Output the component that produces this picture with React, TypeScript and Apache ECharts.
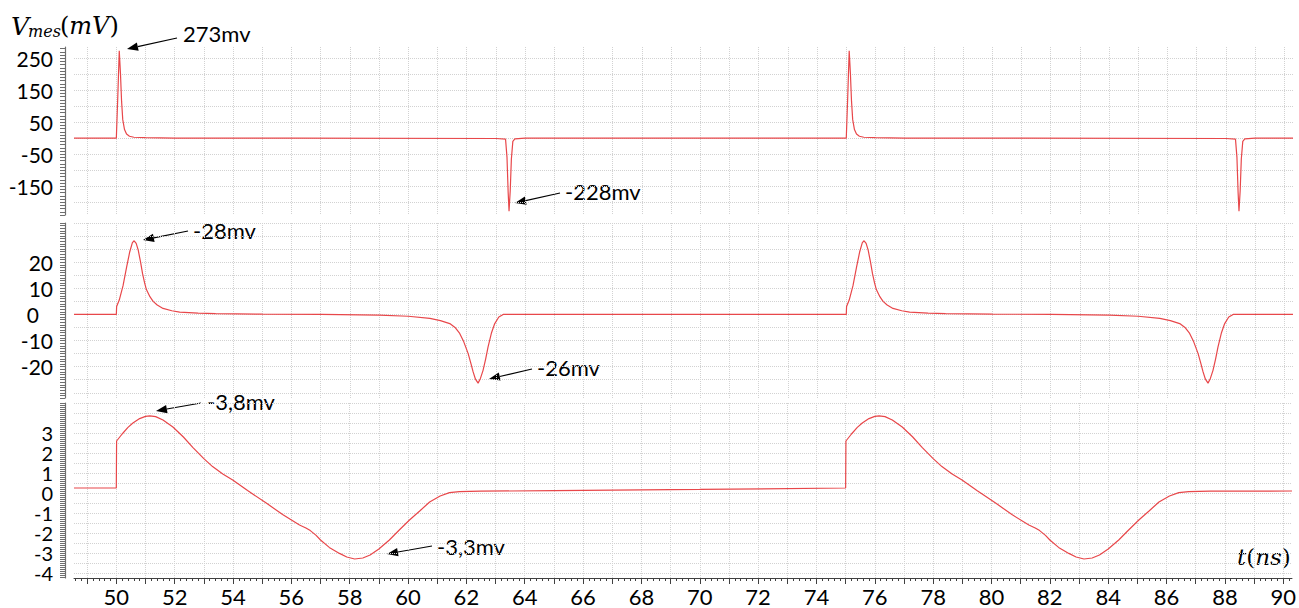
import React, { useEffect, useRef } from 'react';
import * as echarts from 'echarts';

// ---------- axis ranges & tick values ----------
const X_MIN = 48.55;
const X_MAX = 90.3;
const X_LABELS = [50, 52, 54, 56, 58, 60, 62, 64, 66, 68, 70, 72, 74, 76, 78, 80, 82, 84, 86, 88, 90];

const TOP_MIN = -240;
const TOP_MAX = 285;
const TOP_LABELS = [-150, -50, 50, 150, 250];

const MID_MIN = -32;
const MID_MAX = 35;
const MID_LABELS = [-20, -10, 0, 10, 20];

const BOT_MIN = -4.25;
const BOT_MAX = 4.5;
const BOT_LABELS_EVEN = [-4, -2, 0, 2];
const BOT_LABELS_ODD = [-3, -1, 1, 3];

// ---------- signals (t in ns, V in mV) ----------
const topSignal: [number, number][] = [
  [48.55, 0], [50.0, 0], [50.05, 130], [50.1, 273], [50.14, 205], [50.18, 115], [50.22, 58], [50.28, 27],
  [50.35, 13], [50.45, 6], [50.6, 3], [51.0, 1.5], [52.0, 0.5], [56.0, 0], [63.0, -1], [63.33, -3],
  [63.38, -60], [63.42, -170], [63.45, -228], [63.49, -165], [63.53, -65], [63.58, -10], [63.65, -2], [64.0, 0],
  [75.0, 0], [75.05, 130], [75.1, 273], [75.14, 205], [75.18, 115], [75.22, 58], [75.28, 27],
  [75.35, 13], [75.45, 6], [75.6, 3], [76.0, 1.5], [77.0, 0.5], [81.0, 0], [88.0, -1], [88.33, -3],
  [88.38, -60], [88.42, -170], [88.45, -228], [88.49, -165], [88.53, -65], [88.58, -10], [88.65, -2], [89.0, 0],
  [90.3, 0],
];

const midSignal: [number, number][] = [
  [48.55, 0], [50.0, 0], [50.01, 3], [50.1, 5.5], [50.23, 11], [50.35, 18], [50.46, 24], [50.55, 27.5],
  [50.61, 28.2], [50.68, 27.2], [50.75, 24.6], [50.83, 20], [50.9, 15.5], [50.97, 12], [51.03, 9.5],
  [51.15, 6.8], [51.26, 5], [51.4, 3.6], [51.6, 2.3], [51.9, 1.4], [52.17, 0.9], [52.8, 0.5], [53.4, 0.3],
  [55.0, 0.1], [57.0, 0], [59.0, -0.3], [60.0, -0.7], [60.74, -1.5], [61.1, -2.4], [61.42, -3.5], [61.6, -5],
  [61.76, -7.3], [61.9, -10.5], [62.05, -15], [62.15, -19], [62.22, -22], [62.3, -24.8], [62.39, -26.3],
  [62.47, -24.5], [62.56, -21.4], [62.65, -17], [62.73, -12.5], [62.85, -7], [62.96, -3.5], [63.1, -1], [63.25, 0],
  [75.0, 0], [75.01, 3], [75.1, 5.5], [75.23, 11], [75.35, 18], [75.46, 24], [75.55, 27.5],
  [75.61, 28.2], [75.68, 27.2], [75.75, 24.6], [75.83, 20], [75.9, 15.5], [75.97, 12], [76.03, 9.5],
  [76.15, 6.8], [76.26, 5], [76.4, 3.6], [76.6, 2.3], [76.9, 1.4], [77.17, 0.9], [77.8, 0.5], [78.4, 0.3],
  [80.0, 0.1], [82.0, 0], [84.0, -0.3], [85.0, -0.7], [85.74, -1.5], [86.1, -2.4], [86.42, -3.5], [86.6, -5],
  [86.76, -7.3], [86.9, -10.5], [87.05, -15], [87.15, -19], [87.22, -22], [87.3, -24.8], [87.39, -26.3],
  [87.47, -24.5], [87.56, -21.4], [87.65, -17], [87.73, -12.5], [87.85, -7], [87.96, -3.5], [88.1, -1], [88.25, 0],
  [90.3, 0],
];

const botSignal: [number, number][] = [
  [48.55, 0.25], [50.0, 0.25], [50.01, 2.6], [50.2, 2.95], [50.4, 3.28], [50.57, 3.5], [50.8, 3.72], [51.0, 3.83],
  [51.15, 3.86], [51.35, 3.82], [51.6, 3.65], [51.94, 3.3], [52.3, 2.8], [52.62, 2.28], [53.0, 1.72], [53.3, 1.32],
  [53.65, 0.95], [53.99, 0.65], [54.5, 0.12], [55.14, -0.5], [55.7, -1.08], [56.28, -1.6], [56.5, -1.75],
  [56.65, -1.88], [56.85, -2.12], [57.0, -2.35], [57.3, -2.72], [57.65, -3.02], [57.9, -3.2], [58.17, -3.3],
  [58.45, -3.25], [58.7, -3.1], [59.0, -2.8], [59.36, -2.35], [59.7, -1.85], [60.05, -1.35], [60.4, -0.9],
  [60.74, -0.45], [61.1, -0.15], [61.42, 0.02], [61.76, 0.07], [62.5, 0.09], [65.0, 0.12], [70.0, 0.18],
  [75.0, 0.25], [75.01, 2.6], [75.2, 2.95], [75.4, 3.28], [75.57, 3.5], [75.8, 3.72], [76.0, 3.83],
  [76.15, 3.86], [76.35, 3.82], [76.6, 3.65], [76.94, 3.3], [77.3, 2.8], [77.62, 2.28], [78.0, 1.72], [78.3, 1.32],
  [78.65, 0.95], [78.99, 0.65], [79.5, 0.12], [80.14, -0.5], [80.7, -1.08], [81.28, -1.6], [81.5, -1.75],
  [81.65, -1.88], [81.85, -2.12], [82.0, -2.35], [82.3, -2.72], [82.65, -3.02], [82.9, -3.2], [83.17, -3.3],
  [83.45, -3.25], [83.7, -3.1], [84.0, -2.8], [84.36, -2.35], [84.7, -1.85], [85.05, -1.35], [85.4, -0.9],
  [85.74, -0.45], [86.1, -0.15], [86.42, 0.02], [86.76, 0.07], [87.5, 0.09], [90.3, 0.1],
];

// annotation texts
const annotations = [
  { text: '273mv', tx: 183, ty: 33, ax1: 177, ay1: 38, ax2: 127, ay2: 49 },
  { text: '-228mv', tx: 565, ty: 191, ax1: 560, ay1: 193, ax2: 515, ay2: 203 },
  { text: '-28mv', tx: 193, ty: 230, ax1: 188, ay1: 231, ax2: 143, ay2: 240 },
  { text: '-26mv', tx: 537, ty: 367, ax1: 532, ay1: 369, ax2: 489, ay2: 379 },
  { text: '-3,8mv', tx: 207, ty: 401, ax1: 201, ay1: 403, ax2: 156, ay2: 411 },
  { text: '-3,3mv', tx: 437, ty: 546, ax1: 432, ay1: 546, ax2: 387, ay2: 554 },
];

function steps(a: number, b: number, s: number): number[] {
  const out: number[] = [];
  const n = Math.floor((b - a) / s + 1e-6);
  for (let i = 0; i <= n; i++) out.push(Math.round((a + i * s) * 1000) / 1000);
  return out;
}

const X_GRID = steps(49, 90, 1);
const X_RULER = steps(48.6, 90.2, 0.2);
const TOP_GRID = steps(-200, 250, 50);
const TOP_RULER = steps(-240, 280, 10);
const MID_GRID = steps(-30, 35, 5);
const MID_RULER = steps(-32, 35, 1);
const BOT_GRID = steps(-4, 4.5, 0.5);
const BOT_RULER = steps(-4.2, 4.5, 0.1);

const LABEL_FONT = 'Lato';
const RED = '#e8474a';
const GRID_COLOR = '#d2d2d2';

function arrow(x1: number, y1: number, x2: number, y2: number) {
  const dx = x2 - x1, dy = y2 - y1;
  const L = Math.hypot(dx, dy);
  const ux = dx / L, uy = dy / L;
  const hl = 11, hw = 4.2;
  const bx = x2 - ux * hl, by = y2 - uy * hl;
  const px = -uy, py = ux;
  return [
    { type: 'line', shape: { x1, y1, x2: bx, y2: by }, style: { stroke: '#000', lineWidth: 1.1 } },
    {
      type: 'polygon',
      shape: { points: [[x2, y2], [bx + px * hw, by + py * hw], [bx - px * hw, by - py * hw]] },
      style: { fill: '#000' },
    },
  ];
}

export default function App() {
  const ref = useRef<HTMLDivElement>(null);
  useEffect(() => {
    document.body.style.margin = '0';
    if (!ref.current) return;
    const chart = echarts.init(ref.current, null, { renderer: 'svg' });

    const grids = [
      { left: 74, right: 6, top: 47, height: 168 },
      { left: 74, right: 6, top: 223, height: 175 },
      { left: 74, right: 6, top: 403, height: 175 },
    ];

    const mainX = (gi: number, show: boolean) => ({
      type: 'value',
      gridIndex: gi,
      min: X_MIN,
      max: X_MAX,
      position: 'bottom',
      axisLine: { show, onZero: false, lineStyle: { color: '#404040', width: 1 } },
      axisTick: { show, customValues: X_GRID, length: 6, lineStyle: { color: '#404040' } },
      axisLabel: {
        show,
        customValues: X_LABELS,
        margin: 7,
        fontSize: 22,
        fontFamily: LABEL_FONT,
        color: '#000',
        showMinLabel: true,
        showMaxLabel: true,
      },
      splitLine: { show: true, lineStyle: { color: GRID_COLOR, type: 'dotted', width: 1 } },
    });

    const rulerX = (gi: number) => ({
      type: 'value',
      gridIndex: gi,
      min: X_MIN,
      max: X_MAX,
      position: 'bottom',
      axisLine: { show: false, onZero: false },
      axisTick: { show: true, customValues: X_RULER, length: 3, lineStyle: { color: '#404040' } },
      axisLabel: { show: false },
      splitLine: { show: false },
    });

    const mainY = (gi: number, min: number, max: number, grid: number[], labels: number[], fontSize: number, lineHeight: number, formatter?: any, rich?: any) => ({
      type: 'value',
      gridIndex: gi,
      min,
      max,
      position: 'left',
      axisLine: { show: false, onZero: false },
      axisTick: { show: false, customValues: grid },
      axisLabel: {
        customValues: labels,
        margin: 21,
        fontSize,
        lineHeight,
        fontFamily: LABEL_FONT,
        color: '#000',
        showMinLabel: true,
        showMaxLabel: true,
        hideOverlap: false,
        formatter,
        rich,
      },
      splitLine: { show: true, lineStyle: { color: GRID_COLOR, type: 'dotted', width: 1 } },
    });

    const labelY = (gi: number, min: number, max: number, labels: number[]) => ({
      type: 'value',
      gridIndex: gi,
      min,
      max,
      position: 'left',
      axisLine: { show: false, onZero: false },
      axisTick: { show: false, customValues: labels },
      axisLabel: {
        customValues: labels,
        margin: 21,
        fontSize: 20,
        lineHeight: 18,
        fontFamily: LABEL_FONT,
        color: '#000',
        showMinLabel: true,
        showMaxLabel: true,
      },
      splitLine: { show: false },
    });

    const rulerY = (gi: number, min: number, max: number, ticks: number[]) => ({
      type: 'value',
      gridIndex: gi,
      min,
      max,
      position: 'left',
      offset: 9,
      axisLine: { show: true, onZero: false, lineStyle: { color: '#6e6e6e', width: 1.2 } },
      axisTick: { show: true, customValues: ticks, length: 5, lineStyle: { color: '#6e6e6e' } },
      axisLabel: { show: false },
      splitLine: { show: false },
    });

    const midFormatter = (v: number) => (Math.abs(v) < 1e-9 ? '{z|0}' : String(v));
    const midRich = { z: { fontSize: 21, fontFamily: LABEL_FONT, color: '#000', padding: [0, 14, 0, 0] } };

    const graphics: any[] = [
      { type: 'text', x: 11, y: 26, style: { text: 'V', font: 'italic 25px "DejaVu Serif"', fill: '#000', verticalAlign: 'middle' } },
      { type: 'text', x: 28, y: 31, style: { text: 'mes', font: 'italic 16px "DejaVu Serif"', fill: '#000', verticalAlign: 'middle' } },
      {
        type: 'text', x: 60, y: 26,
        style: {
          text: '{n|(}{i|mV}{n|)}', verticalAlign: 'middle', fill: '#000',
          rich: {
            n: { fontFamily: 'DejaVu Serif', fontSize: 24, fill: '#000' },
            i: { fontFamily: 'DejaVu Serif', fontStyle: 'italic', fontSize: 24, fill: '#000' },
          },
        },
      },
      {
        type: 'text', x: 1237, y: 557,
        style: {
          text: '{i|t}{n|(}{i|ns}{n|)}', verticalAlign: 'middle', fill: '#000',
          rich: {
            n: { fontFamily: 'DejaVu Serif', fontSize: 23, fill: '#000' },
            i: { fontFamily: 'DejaVu Serif', fontStyle: 'italic', fontSize: 23, fill: '#000' },
          },
        },
      },
    ];
    annotations.forEach((a) => {
      graphics.push({
        type: 'text', x: a.tx, y: a.ty,
        style: { text: a.text, font: `22px ${LABEL_FONT}`, fill: '#000', verticalAlign: 'middle' },
      });
      graphics.push(...arrow(a.ax1, a.ay1, a.ax2, a.ay2));
    });

    const lineSeries = (data: [number, number][], xi: number, yi: number) => ({
      type: 'line',
      data,
      xAxisIndex: xi,
      yAxisIndex: yi,
      showSymbol: false,
      symbol: 'none',
      smooth: false,
      clip: true,
      lineStyle: { color: RED, width: 1.2 },
    });

    chart.setOption({
      animation: false,
      grid: grids,
      xAxis: [mainX(0, false), mainX(1, false), mainX(2, true), rulerX(2)],
      yAxis: [
        mainY(0, TOP_MIN, TOP_MAX, TOP_GRID, TOP_LABELS, 21, 24),
        rulerY(0, TOP_MIN, TOP_MAX, TOP_RULER),
        mainY(1, MID_MIN, MID_MAX, MID_GRID, MID_LABELS, 21, 24, midFormatter, midRich),
        rulerY(1, MID_MIN, MID_MAX, MID_RULER),
        mainY(2, BOT_MIN, BOT_MAX, BOT_GRID, BOT_LABELS_EVEN, 20, 18),
        rulerY(2, BOT_MIN, BOT_MAX, BOT_RULER),
        labelY(2, BOT_MIN, BOT_MAX, BOT_LABELS_ODD),
      ],
      series: [
        lineSeries(topSignal, 0, 0),
        lineSeries(midSignal, 1, 2),
        lineSeries(botSignal, 2, 4),
      ],
      graphic: graphics,
    });
    return () => chart.dispose();
  }, []);
  return <div ref={ref} style={{ width: 1299, height: 608 }} />;
}
